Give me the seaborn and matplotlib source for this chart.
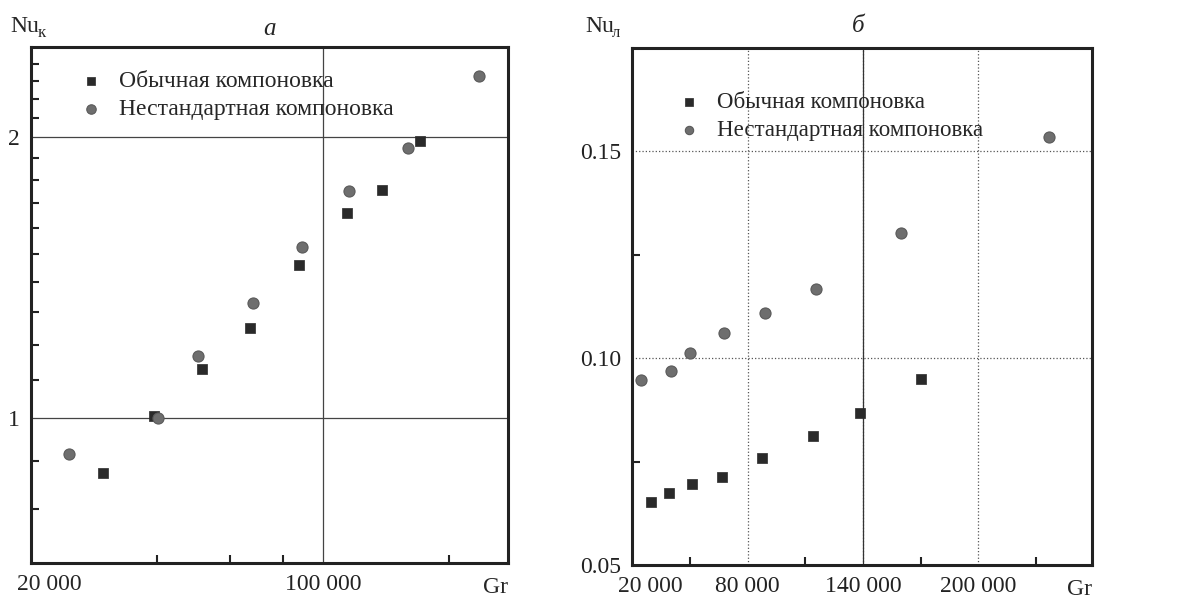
import numpy as np
import pandas as pd
import matplotlib
matplotlib.use('Agg')
import matplotlib.pyplot as plt
import seaborn as sns

# Gr values (same for both panels)
gr_std = [29700, 39400, 51300, 66900, 87400, 113900, 138500, 170200]
gr_new = [24600, 40200, 50100, 68000, 88900, 115400, 160000, 236500]

# panel a: Nu_k (log-log)
nu_k_std = [0.875, 1.007, 1.131, 1.249, 1.459, 1.658, 1.755, 1.981]
nu_k_new = [0.917, 1.000, 1.166, 1.328, 1.525, 1.751, 1.947, 2.326]

# panel b: Nu_l (linear)
nu_l_std = [0.0652, 0.0674, 0.0696, 0.0713, 0.0758, 0.0812, 0.0867, 0.0949]
nu_l_new = [0.0947, 0.0969, 0.1012, 0.1060, 0.1109, 0.1167, 0.1302, 0.1534]

label_std = 'Обычная компоновка'
label_new = 'Нестандартная компоновка'

a_xticks = [20000, 100000]
a_xticklabels = ['', '100 000']
a_xminor = [40000, 60000, 80000, 200000]
a_yticks = [1, 2]
a_yminor = [0.8, 0.9, 1.1, 1.2, 1.3, 1.4, 1.5, 1.6, 1.7, 1.8, 1.9, 2.1, 2.2, 2.3, 2.4]

b_xticks = [20000, 80000, 140000, 200000]
b_xticklabels = ['', '80 000', '140 000', '200 000']
b_xminor = [50000, 110000, 170000, 230000]
b_yticks = [0.05, 0.10, 0.15]
b_yticklabels = ['0.05', '0.10', '0.15']
b_yminor = [0.075, 0.125]

sns.set_style('white')
plt.rcParams['font.family'] = ['Liberation Serif', 'DejaVu Serif']
plt.rcParams['axes.edgecolor'] = '#222222'
plt.rcParams['axes.linewidth'] = 2.2

sq_color = '#2a2a2a'
ci_color = '#6e6e6e'
fs = 17

fig = plt.figure(figsize=(11.82, 5.99), dpi=100)
ax1 = fig.add_axes([0.0262, 0.0601, 0.4036, 0.8614])
ax2 = fig.add_axes([0.5347, 0.0568, 0.3892, 0.8631])

# ---- panel a
sns.scatterplot(x=gr_std, y=nu_k_std, ax=ax1, marker='s', s=56, color=sq_color,
                edgecolor=sq_color, linewidth=0.5, label=label_std, zorder=3)
sns.scatterplot(x=gr_new, y=nu_k_new, ax=ax1, marker='o', s=64, color=ci_color,
                edgecolor='#5a5a5a', linewidth=0.8, label=label_new, zorder=3)
ax1.set_xscale('log')
ax1.set_yscale('log')
ax1.set_xlim(20000, 277000)
ax1.set_ylim(0.70, 2.5)
ax1.set_xticks(a_xticks, a_xticklabels)
ax1.set_xticks(a_xminor, [''] * len(a_xminor), minor=True)
ax1.set_yticks(a_yticks, [str(v) for v in a_yticks])
ax1.set_yticks(a_yminor, [''] * len(a_yminor), minor=True)
ax1.grid(True, which='major', color='#444444', lw=0.9)
ax1.grid(False, which='minor')
ax1.annotate('20 000', xy=(a_xticks[0], 0), xycoords=('data', 'axes fraction'),
             xytext=(13.5, -8), textcoords='offset points', ha='center', va='top', fontsize=fs)
ax1.text(1.0, -0.028, 'Gr', transform=ax1.transAxes, ha='right', va='top', fontsize=fs)

# ---- panel b
sns.scatterplot(x=gr_std, y=nu_l_std, ax=ax2, marker='s', s=56, color=sq_color,
                edgecolor=sq_color, linewidth=0.5, label=label_std, zorder=3)
sns.scatterplot(x=gr_new, y=nu_l_new, ax=ax2, marker='o', s=64, color=ci_color,
                edgecolor='#5a5a5a', linewidth=0.8, label=label_new, zorder=3)
ax2.set_xlim(20000, 259000)
ax2.set_ylim(0.05, 0.175)
ax2.set_xticks(b_xticks, b_xticklabels)
ax2.set_xticks(b_xminor, [''] * len(b_xminor), minor=True)
ax2.set_yticks(b_yticks, b_yticklabels)
ax2.set_yticks(b_yminor, [''] * len(b_yminor), minor=True)
ax2.grid(True, which='major', color='#555555', lw=0.9, ls=':')
ax2.axvline(b_xticks[2], color='#333333', lw=0.9, zorder=1)
ax2.annotate('20 000', xy=(b_xticks[0], 0), xycoords=('data', 'axes fraction'),
             xytext=(13.5, -8), textcoords='offset points', ha='center', va='top', fontsize=fs)
ax2.text(1.0, -0.028, 'Gr', transform=ax2.transAxes, ha='right', va='top', fontsize=fs)

for ax in (ax1, ax2):
    ax.set_axisbelow(True)
    ax.tick_params(which='major', length=0, labelsize=fs, pad=8, colors='#222222')
    ax.tick_params(which='minor', direction='in', length=6, width=1.5, color='#222222',
                   left=True, bottom=True)
    for sp in ax.spines.values():
        sp.set_visible(True)

ax1.legend(loc='upper left', bbox_to_anchor=(0.106, 0.955), frameon=False,
           handlelength=0.8, handletextpad=0.8, labelspacing=0.3, fontsize=fs,
           borderaxespad=0, borderpad=0, markerscale=0.85)
ax2.legend(loc='upper left', bbox_to_anchor=(0.105, 0.915), frameon=False,
           handlelength=0.8, handletextpad=0.8, labelspacing=0.3, fontsize=16.5,
           borderaxespad=0, borderpad=0, markerscale=0.75)

# axis names and panel letters
fig.text(10 / 1182, 1 - 32 / 599, 'Nu', fontsize=fs, va='baseline')
fig.text(38 / 1182, 1 - 37 / 599, 'к', fontsize=12, va='baseline')
fig.text(585 / 1182, 1 - 32 / 599, 'Nu', fontsize=fs, va='baseline')
fig.text(612 / 1182, 1 - 37 / 599, 'л', fontsize=12, va='baseline')
fig.text(270 / 1182, 1 - 29 / 599, 'а', fontsize=18, style='italic', ha='center', va='center')
fig.text(858 / 1182, 1 - 26 / 599, 'б', fontsize=18, style='italic', ha='center', va='center')

fig.savefig('out.png', dpi=100, facecolor='white')
